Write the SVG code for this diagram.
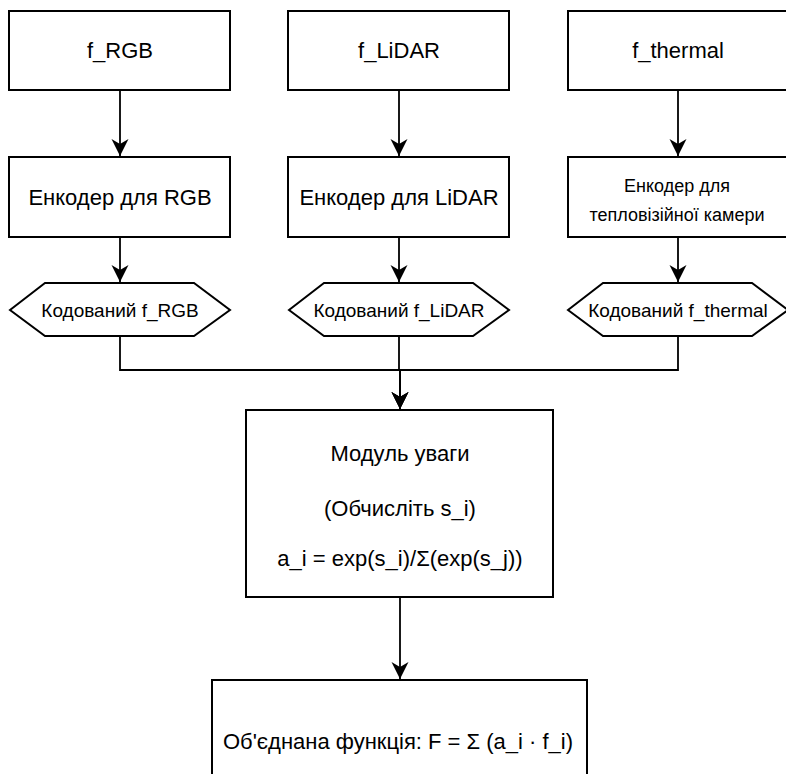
<svg xmlns="http://www.w3.org/2000/svg" width="786" height="774" viewBox="0 0 786 774">
  <style>
    .box { fill: #ffffff; stroke: #000000; stroke-width: 2; }
    .t { font-family: "Liberation Sans", Arial, Helvetica, sans-serif; fill: #000000; text-anchor: middle; dominant-baseline: central; }
    .big { font-size: 22px; }
    .mid { font-size: 19px; }
    .sm { font-size: 18px; }
    .conn { fill: none; stroke: #000000; stroke-width: 1.8; }
  </style>
  <defs>
    <marker id="arr" markerUnits="userSpaceOnUse" markerWidth="20" markerHeight="20" viewBox="-18 -10 20 20" refX="0" refY="0" orient="auto">
      <path d="M0,0 L-17,-8.5 L-12,0 L-17,8.5 Z" fill="#000000"/>
    </marker>
  </defs>
  <rect width="786" height="774" fill="#ffffff"/>

  <g id="connectors">
    <path class="conn" d="M120,90 V156" marker-end="url(#arr)"/>
    <path class="conn" d="M399,90 V156" marker-end="url(#arr)"/>
    <path class="conn" d="M678,90 V156" marker-end="url(#arr)"/>
    <path class="conn" d="M120,237 V282" marker-end="url(#arr)"/>
    <path class="conn" d="M399,237 V282" marker-end="url(#arr)"/>
    <path class="conn" d="M678,237 V282" marker-end="url(#arr)"/>
    <path class="conn" d="M120,336 V370 H400 V409" marker-end="url(#arr)"/>
    <path class="conn" d="M399,336 V370 H400 V409" marker-end="url(#arr)"/>
    <path class="conn" d="M678,336 V370 H400 V409" marker-end="url(#arr)"/>
    <path class="conn" d="M400,597 V679" marker-end="url(#arr)"/>
  </g>

  <g id="f_rgb">
    <rect class="box" x="9" y="11" width="221" height="79"/>
    <text class="t big" x="120" y="50">f_RGB</text>
  </g>
  <g id="f_lidar">
    <rect class="box" x="288" y="11" width="221" height="79"/>
    <text class="t big" x="399" y="50">f_LiDAR</text>
  </g>
  <g id="f_thermal">
    <rect class="box" x="568" y="11" width="221" height="79"/>
    <text class="t big" x="678" y="50">f_thermal</text>
  </g>

  <g id="enc_rgb">
    <rect class="box" x="9" y="157" width="221" height="80"/>
    <text class="t big" x="120" y="197">Енкодер для RGB</text>
  </g>
  <g id="enc_lidar">
    <rect class="box" x="288" y="157" width="221" height="80"/>
    <text class="t big" x="399" y="197">Енкодер для LiDAR</text>
  </g>
  <g id="enc_thermal">
    <rect class="box" x="568" y="157" width="221" height="80"/>
    <text class="t sm" x="677" y="186">Енкодер для</text>
    <text class="t sm" x="677" y="215">тепловізійної камери</text>
  </g>

  <g id="coded_rgb">
    <polygon class="box" points="10,310 45,283 194,283 230,310 194,336 45,336"/>
    <text class="t mid" x="120" y="310">Кодований f_RGB</text>
  </g>
  <g id="coded_lidar">
    <polygon class="box" points="289,310 324,283 473,283 509,310 473,336 324,336"/>
    <text class="t mid" x="399" y="310">Кодований f_LiDAR</text>
  </g>
  <g id="coded_thermal">
    <polygon class="box" points="568,310 603,283 752,283 788,310 752,336 603,336"/>
    <text class="t mid" x="678" y="310">Кодований f_thermal</text>
  </g>

  <g id="attention">
    <rect class="box" x="246" y="410" width="307" height="187"/>
    <text class="t big" x="400" y="453">Модуль уваги</text>
    <text class="t big" x="400" y="508">(Обчисліть s_i)</text>
    <text class="t big" x="400" y="558">a_i = exp(s_i)/Σ(exp(s_j))</text>
  </g>

  <g id="fusion">
    <rect class="box" x="212" y="680" width="375" height="120"/>
    <text class="t big" x="398" y="741">Об'єднана функція: F = Σ (a_i · f_i)</text>
  </g>
</svg>
